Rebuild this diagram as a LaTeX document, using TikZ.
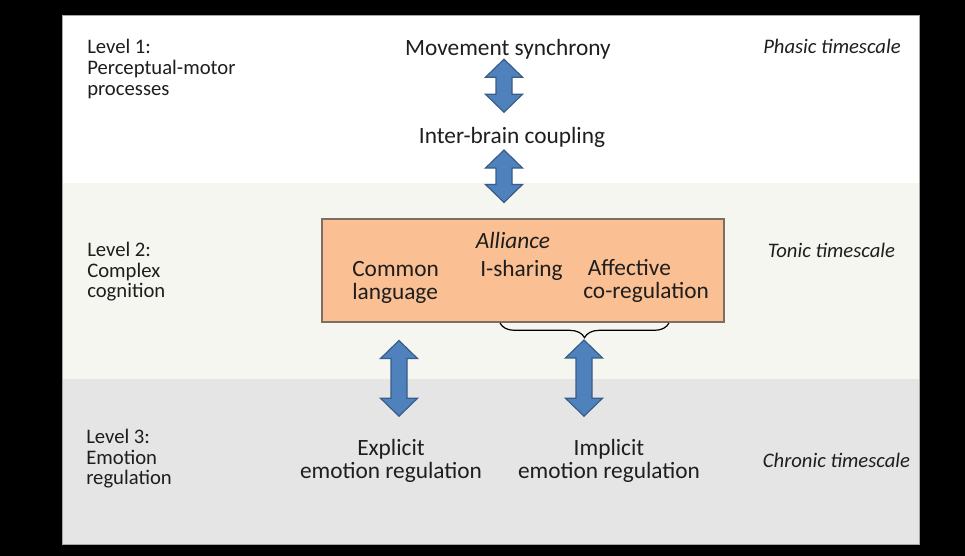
\documentclass[tikz,border=0pt]{standalone}
\usepackage{fontspec}
\setmainfont{Carlito}
\usetikzlibrary{calc, decorations.pathreplacing}

\definecolor{bandlight}{RGB}{246,246,240}
\definecolor{bandgrey}{RGB}{229,229,229}
\definecolor{boxfill}{RGB}{250,191,146}
\definecolor{boxedge}{RGB}{125,110,100}
\definecolor{arrowblue}{RGB}{79,129,189}
\definecolor{arrowedge}{RGB}{56,93,138}
\definecolor{inktext}{RGB}{30,30,30}

\tikzset{
  leveltext/.style={anchor=west, align=left, inner sep=0pt, text=inktext,
    font=\fontsize{15.5}{15.4}\selectfont},
  maintext/.style={align=center, inner sep=0pt, text=inktext,
    font=\fontsize{17.5}{17.25}\selectfont},
  scaletext/.style={inner sep=0pt, text=inktext,
    font=\fontsize{15.5}{15.4}\selectfont\itshape},
  dblarrow/.style={draw=arrowedge, fill=arrowblue, line width=0.9pt, line join=miter,
    to path={let \p1=(\tikztostart), \p2=(\tikztotarget) in
      -- (\x1+13.9pt,\y1-13.5pt) -- (\x1+6pt,\y1-13.5pt)
      -- (\x1+6pt,\y2+13.5pt) -- (\x1+13.9pt,\y2+13.5pt) -- (\x1,\y2)
      -- (\x1-13.9pt,\y2+13.5pt) -- (\x1-6pt,\y2+13.5pt)
      -- (\x1-6pt,\y1-13.5pt) -- (\x1-13.9pt,\y1-13.5pt) -- cycle}}
}

\begin{document}
\begin{tikzpicture}[x=0.75pt, y=-0.75pt]
  \useasboundingbox (0,0) rectangle (965,556);
  \fill[black] (0,0) rectangle (965,556);
  % three bands
  \fill[white] (62,15) rectangle (919,183);
  \fill[bandlight] (62,183) rectangle (919,379);
  \fill[bandgrey] (62,379) rectangle (919,544);
  \draw[gray!70, line width=0.6pt] (62,15) rectangle (919,544);

  % level labels
  \node[leveltext] (lvone) at (87,69) {Level 1:\\Perceptual-motor\\processes};
  \node[leveltext] (lvtwo) at (87,272) {Level 2:\\Complex\\cognition};
  \node[leveltext] (lvthree) at (86,459) {Level 3:\\Emotion\\regulation};

  % timescales
  \node[scaletext] (phasic) at (832,46.5) {Phasic timescale};
  \node[scaletext] (tonic) at (831.5,250) {Tonic timescale};
  \node[scaletext] (chronic) at (836.5,460) {Chronic timescale};

  % processes
  \node[maintext] (sync) at (508,49) {Movement synchrony};
  \node[maintext] (brain) at (512,137) {Inter-brain coupling};
  \node[draw=boxedge, fill=boxfill, line width=0.8pt, minimum width=301.5pt,
    minimum height=77.25pt, inner sep=0pt] (alliance) at (523,270.5) {};
  \node[maintext, font=\fontsize{17.5}{17.25}\selectfont\itshape] (alltitle) at (513,240.5) {Alliance};
  \node[maintext, anchor=west, align=left] (common) at (352,282) {Common\\language};
  \node[maintext] (ishare) at (521.5,270) {I-sharing};
  \node[maintext, anchor=west, align=left] (affect) at (583,281.4) {\hspace*{3.5pt}Affective\\co-regulation};
  \node[maintext] (explicit) at (391,461.4) {Explicit\\emotion regulation};
  \node[maintext] (implicit) at (609,461.4) {Implicit\\emotion regulation};

  % brace under I-sharing and co-regulation
  \coordinate (braceleft) at (500,323);
  \coordinate (braceright) at (669,323);
  \coordinate (bracetip) at (584,340);
  \draw[decorate, decoration={brace, mirror, amplitude=11pt}, line width=0.9pt]
    (braceleft) -- (braceright);

  % block arrows
  \draw[dblarrow] ([xshift=-3pt]sync.south) to ([yshift=10.8pt]brain.north);
  \draw[dblarrow] ([xshift=-6pt, yshift=-2pt]brain.south) to ([yshift=12pt]alliance.north);
  \draw[dblarrow] ([xshift=-93pt, yshift=-13.5pt]alliance.south) to ([yshift=17.5pt]explicit.north);
  \draw[dblarrow] (bracetip) to ([yshift=17.5pt]implicit.north);
\end{tikzpicture}
\end{document}
